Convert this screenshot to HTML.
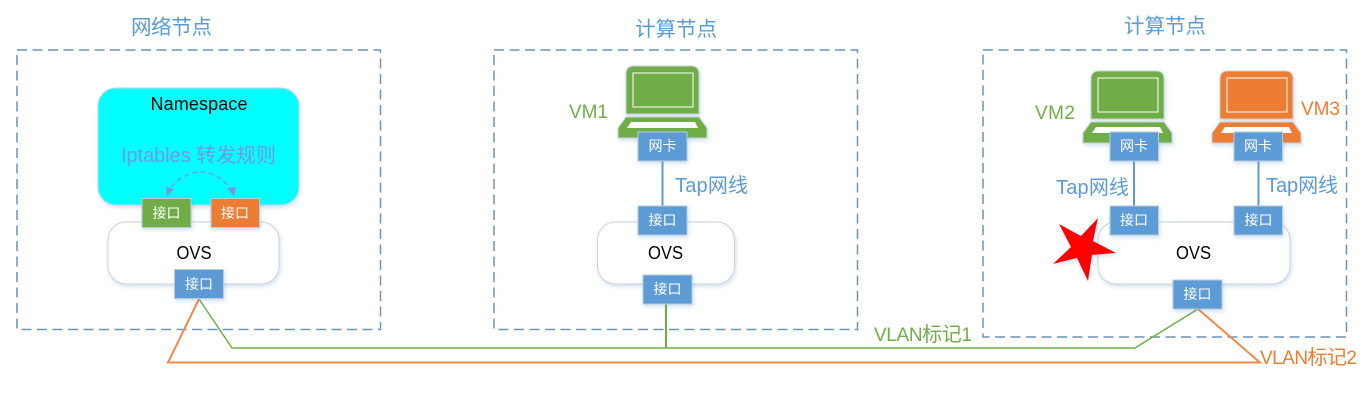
<!DOCTYPE html>
<html>
<head>
<meta charset="utf-8">
<style>
html,body{margin:0;padding:0;background:#fff;width:1372px;height:400px;overflow:hidden}
svg{display:block}
text{font-family:"Liberation Sans","Noto Sans CJK SC",sans-serif}
.t{font-size:20.5px;fill:#5b9bd5}
.l{font-size:19px}
.c{font-size:20px}
.b{fill:#5b9bd5}
.p{fill:#fff;font-size:14px;text-anchor:middle}
.k{fill:#000;font-size:18px}
</style>
</head>
<body>
<svg width="1372" height="400" viewBox="0 0 1372 400" xmlns="http://www.w3.org/2000/svg">
<defs>
<filter id="s" x="-20%" y="-20%" width="140%" height="140%"><feDropShadow dx="1" dy="2" stdDeviation="2" flood-color="#5b9bd5" flood-opacity=".3"/></filter>
<g id="lap">
<path d="M0 48V8Q0 0 8 0H65Q73 0 73 8V48Z" stroke="#c9d3dc" stroke-width="1"/>
<path d="M0 51H73L81 62V72H-8V62Z" stroke="#c9d3dc" stroke-width="1"/>
<rect x="7" y="7" width="60" height="34" fill="none" stroke="#fff" stroke-width="1"/>
<path d="M5 56H69L72 62H1Z" fill="#fff"/>
</g>
</defs>

<g fill="none" stroke="#6a94bb" stroke-width="1.5" stroke-dasharray="10 5.5">
<rect x="17" y="50" width="363.5" height="279.5"/>
<rect x="494" y="50" width="363.5" height="279.5"/>
<rect x="983" y="50" width="363.5" height="287"/>
</g>

<text class="t" x="131" y="34" textLength="81">网络节点</text>
<text class="t" x="635" y="36" textLength="82">计算节点</text>
<text class="t" x="1124" y="33" textLength="82">计算节点</text>

<!-- namespace -->
<rect x="98" y="88" width="201" height="117" rx="18" fill="#00ffff" stroke="#c4d4dc" filter="url(#s)"/>
<text x="150.500" y="110" fill="#000" font-size="18" textLength="97">Namespace</text>
<text x="121" y="162" fill="#7598dc" font-size="20" textLength="155">Iptables 转发规则</text>
<path d="M171 187Q200 157 230 187" fill="none" stroke="#7598dc" stroke-width="1.300" stroke-dasharray="5 3.500"/>
<path d="M167 196.500L166 187L174 189Z M234 196.500L236 187L227 188Z" fill="#7598dc"/>

<!-- ovs boxes -->
<g fill="#fff" stroke="#ccd2d8" filter="url(#s)">
<rect x="108" y="222" width="171" height="62" rx="18"/>
<rect x="597.500" y="222" width="137" height="62" rx="18"/>
<rect x="1098" y="222" width="192" height="62" rx="18"/>
</g>
<text class="k" x="176.500" y="259" textLength="35" lengthAdjust="spacingAndGlyphs">OVS</text>
<text class="k" x="648" y="259" textLength="35" lengthAdjust="spacingAndGlyphs">OVS</text>
<text class="k" x="1176" y="259" textLength="35" lengthAdjust="spacingAndGlyphs">OVS</text>

<!-- connectors -->
<g fill="none" stroke-width="2">
<path d="M662.500 161V206M1134 161V206M1258.500 161V206" stroke="#5b9bd5"/>
<path d="M199 299L232 348H1135L1198 309" stroke="#70ad47" stroke-width="1.500"/>
<path d="M666 303V348" stroke="#70ad47"/>
<path d="M199 299L168 362.500H1260L1198 309" stroke="#ed8a4c"/>
</g>

<!-- laptops -->
<use href="#lap" x="626" y="66" fill="#70ad47" filter="url(#s)"/>
<use href="#lap" x="1091" y="71" fill="#70ad47" filter="url(#s)"/>
<use href="#lap" x="1220" y="71" fill="#ed7d31" filter="url(#s)"/>

<!-- ports -->
<g stroke="#bccbd8" stroke-width="1" filter="url(#s)">
<rect x="142" y="198.500" width="49" height="29" fill="#70ad47"/>
<rect x="211" y="198.500" width="48.500" height="29" fill="#ed7d31"/>
<rect x="174.500" y="269.500" width="49" height="29" fill="#5b9bd5"/>
<rect x="638" y="132" width="49" height="29" fill="#5b9bd5"/>
<rect x="638" y="206" width="49" height="29" fill="#5b9bd5"/>
<rect x="643" y="275" width="49" height="29" fill="#5b9bd5"/>
<rect x="1110" y="132" width="48.500" height="29" fill="#5b9bd5"/>
<rect x="1234" y="132" width="48.500" height="29" fill="#5b9bd5"/>
<rect x="1110" y="206" width="48.500" height="29" fill="#5b9bd5"/>
<rect x="1234" y="206" width="48.500" height="29" fill="#5b9bd5"/>
<rect x="1173" y="280" width="49" height="29" fill="#5b9bd5"/>
</g>
<text class="p" x="166.500" y="218">接口</text>
<text class="p" x="235" y="218">接口</text>
<text class="p" x="199" y="289">接口</text>
<text class="p" x="662.500" y="151">网卡</text>
<text class="p" x="662.500" y="225">接口</text>
<text class="p" x="667.500" y="294">接口</text>
<text class="p" x="1134" y="151">网卡</text>
<text class="p" x="1258" y="151">网卡</text>
<text class="p" x="1134" y="225">接口</text>
<text class="p" x="1258.500" y="225">接口</text>
<text class="p" x="1197.500" y="299">接口</text>

<!-- labels -->
<text class="l" x="569" y="118" fill="#70ad47" textLength="39">VM1</text>
<text class="l" x="1035" y="119" fill="#70ad47" textLength="40">VM2</text>
<text class="l" x="1301" y="115" fill="#ed7d31" textLength="39">VM3</text>
<text class="c b" x="675" y="192" textLength="73">Tap网线</text>
<text class="c b" x="1056" y="194" textLength="73">Tap网线</text>
<text class="c b" x="1266" y="192" textLength="72">Tap网线</text>
<text x="874" y="341" fill="#70ad47" font-size="19" textLength="98">VLAN<tspan font-size="20">标记</tspan>1</text>
<text x="1260" y="364" fill="#ed7d31" font-size="19" textLength="97">VLAN<tspan font-size="20">标记</tspan>2</text>

<!-- star -->
<polygon points="1098,218 1093,241 1116,253 1092,255 1088,281 1077,258 1053,264 1071,247 1059,224 1081,236" fill="#ff0000" filter="url(#s)"/>
</svg>
</body>
</html>
